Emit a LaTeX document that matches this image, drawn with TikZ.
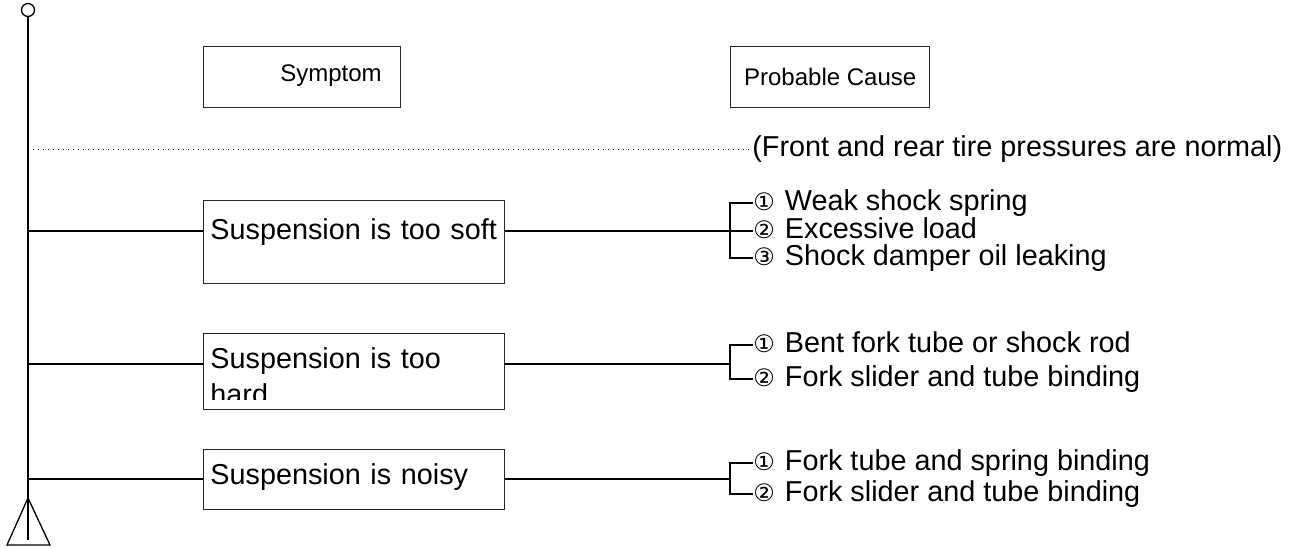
\documentclass[tikz,border=0pt]{standalone}
\usepackage{fontspec}
\setmainfont{Liberation Sans}
\newfontfamily\numfont{DejaVu Sans}
\usetikzlibrary{positioning}
\newcommand{\cn}[1]{{\numfont\fontsize{12}{14}\selectfont #1}\hspace{5pt}}
\tikzset{
header/.style={draw=black!85,line width=.7pt,minimum height=30.5pt,anchor=north west,inner sep=0},
headtext/.style={anchor=center,inner sep=0,font=\fontsize{12}{14}\selectfont},
symptom/.style={draw=black!85,line width=.7pt,minimum width=150.5pt,anchor=north west,inner sep=0},
symtext/.style={anchor=base west,inner sep=0,text width=148pt,align=left},
cause/.style={anchor=west,inner sep=0,text height=.72em,text depth=0pt},
link/.style={line width=.65pt}
}
\begin{document}
\begin{tikzpicture}[x=.5pt,y=-.5pt,font=\fontsize{14.4}{18}\selectfont]
\useasboundingbox (0,0) rectangle (1308,547);
% mast with ring and foot
\node[draw,circle,link,minimum size=6.5pt,inner sep=0] (ring) at (28,10) {};
\coordinate (foot) at (28,540);
\draw[link] (ring) -- (foot);
\draw[link] (28,498) -- (7,545) -- (50,545) -- cycle;
% headers
\node[header,minimum width=98.5pt] (hsym) at (203,46) {};
\node[headtext] (hsymtxt) at (331,76) {Symptom};
\node[header,minimum width=99.5pt] (hcause) at (730,46) {};
\node[headtext] (hcausetxt) at (hcause.center) {Probable Cause};
% tire note
\node[cause] (note) at (752,149) {(Front and rear tire pressures are normal)};
\draw[dotted,line width=.5pt] (ring |- note) -- (note.west);
% symptom boxes
\node[symptom,minimum height=41.5pt] (soft) at (203,200) {};
\node[symtext] (softtxt) at (210,239) {Suspension is too soft};
\node[symptom,minimum height=38pt] (hard) at (203,333) {};
\begin{scope}
\clip (203,333) rectangle (504,399);
\node[symtext] (hardtxt) at (210,368) {Suspension is too\\hard};
\end{scope}
\node[symptom,minimum height=30pt] (noisy) at (203,449) {};
\node[symtext] (noisytxt) at (210,484) {Suspension is noisy};
% probable causes
\node[cause] (c11) at (753,203) {\cn{①}Weak shock spring};
\node[cause] (c12) at (753,231) {\cn{②}Excessive load};
\node[cause] (c13) at (753,258) {\cn{③}Shock damper oil leaking};
\node[cause] (c21) at (753,345) {\cn{①}Bent fork tube or shock rod};
\node[cause] (c22) at (753,379) {\cn{②}Fork slider and tube binding};
\node[cause] (c31) at (753,463) {\cn{①}Fork tube and spring binding};
\node[cause] (c32) at (753,494) {\cn{②}Fork slider and tube binding};
% branches
\coordinate (j1) at (28,231); \coordinate (k1) at (730,231);
\coordinate (j2) at (28,364); \coordinate (k2) at (730,364);
\coordinate (j3) at (28,479); \coordinate (k3) at (730,479);
\draw[link] (j1) -- (j1 -| soft.west); \draw[link] (j1 -| soft.east) -- (k1);
\draw[link] (j2) -- (j2 -| hard.west); \draw[link] (j2 -| hard.east) -- (k2);
\draw[link] (j3) -- (j3 -| noisy.west); \draw[link] (j3 -| noisy.east) -- (k3);
\draw[link] (c11.west) -| (k1) |- (c13.west); \draw[link] (k1) -- (c12.west);
\draw[link] (c21.west) -| (k2) |- (c22.west);
\draw[link] (c31.west) -| (k3) |- (c32.west);
\end{tikzpicture}
\end{document}
